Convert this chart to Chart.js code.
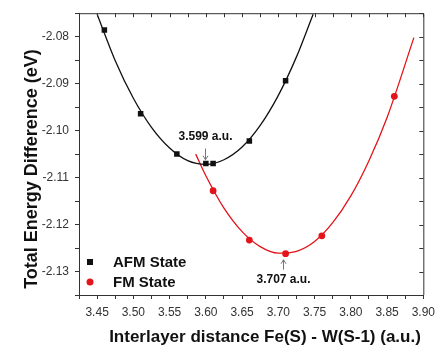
<!DOCTYPE html>
<html>
<head>
<meta charset="utf-8">
<script src="https://cdn.jsdelivr.net/npm/chart.js@4.4.1/dist/chart.umd.min.js"></script>
<style>
    html, body { margin: 0; padding: 0; background: #fff; }
    #wrap { width: 441px; height: 349px; }
</style>
</head>
<body>
<div id="wrap"><canvas id="energyChart" width="441" height="349"></canvas></div>
<script>
// --- DATA ---
const afmX = [3.46, 3.51, 3.56, 3.60, 3.61, 3.66, 3.71];
const afmY = [-2.0786, -2.0964, -2.1050, -2.1070, -2.1070, -2.1022, -2.0894];
const fmX = [3.61, 3.66, 3.71, 3.76, 3.86];
const fmY = [-2.1128, -2.1233, -2.1262, -2.1224, -2.0927];

// fitted curves
const afmFitX = [3.45, 3.475, 3.50, 3.525, 3.55, 3.575, 3.60, 3.625, 3.65, 3.675, 3.70, 3.725, 3.748];
const afmFitY = [-2.0752, -2.0851, -2.0931, -2.0993, -2.1037, -2.1064, -2.1072, -2.1062, -2.1035, -2.0989, -2.0925, -2.0843, -2.0752];
const fmFitX = [3.586, 3.60, 3.625, 3.65, 3.675, 3.70, 3.725, 3.75, 3.775, 3.80, 3.825, 3.85, 3.887];
const fmFitY = [-2.1050, -2.1096, -2.1165, -2.1215, -2.1247, -2.1261, -2.1257, -2.1236, -2.1196, -2.1139, -2.1064, -2.0972, -2.0802];

const xTickLabels = ['3.45', '3.50', '3.55', '3.60', '3.65', '3.70', '3.75', '3.80', '3.85', '3.90'];
const yTickLabels = ['-2.13', '-2.12', '-2.11', '-2.10', '-2.09', '-2.08'];

const legendNames = ['AFM State', 'FM State'];
const minimumNotes = [
    { text: '3.599 a.u.', x: 3.599, textY: -2.1013, from: -2.1038, to: -2.1062 },
    { text: '3.707 a.u.', x: 3.707, textY: -2.1317, from: -2.1296, to: -2.1275 }
];

const BLACK = '#111111';
const RED = '#e3141b';
const AXIS = '#333333';

const toPoints = (xs, ys) => xs.map((x, i) => ({ x: x, y: ys[i] }));

// major + minor ticks (minor halfway between majors)
const withMinor = (labels, first, last, step) => {
    const vals = [];
    const majors = labels.map(Number);
    vals.push(majors[0] - step / 2);
    majors.forEach((v, i) => {
        vals.push(v);
        if (i < majors.length - 1) vals.push(v + step / 2);
    });
    if (majors[majors.length - 1] + step / 2 <= last + 1e-9) vals.push(majors[majors.length - 1] + step / 2);
    return vals.filter(v => v >= first - 1e-9 && v <= last + 1e-9);
};

const isMajor = (v, labels) => labels.some(l => Math.abs(Number(l) - v) < 1e-6);

/**
 * Frame, mirrored ticks, axis titles, annotations and legend
 */
const extrasPlugin = {
    id: 'extras',
    afterDraw: (chart) => {
        const { ctx, chartArea: a, scales } = chart;
        const xs = scales.x, ys = scales.y;
        ctx.save();

        // top and right frame with inward ticks
        ctx.strokeStyle = AXIS;
        ctx.lineWidth = 1;
        ctx.beginPath();
        ctx.moveTo(a.left, a.top + 0.5);
        ctx.lineTo(a.right + 0.5, a.top + 0.5);
        ctx.lineTo(a.right + 0.5, a.bottom);
        xs.ticks.forEach(t => {
            const px = Math.round(xs.getPixelForValue(t.value)) + 0.5;
            ctx.moveTo(px, a.top);
            ctx.lineTo(px, a.top + 4);
        });
        ys.ticks.forEach(t => {
            const py = Math.round(ys.getPixelForValue(t.value)) + 0.5;
            ctx.moveTo(a.right, py);
            ctx.lineTo(a.right - 4, py);
        });
        ctx.stroke();

        // axis titles
        ctx.fillStyle = BLACK;
        ctx.textAlign = 'center';
        ctx.textBaseline = 'middle';
        ctx.font = 'bold 17px "Liberation Sans", Arial, sans-serif';
        ctx.fillText('Interlayer distance Fe(S) - W(S-1) (a.u.)', 265, 337);
        ctx.save();
        ctx.translate(32, 169);
        ctx.rotate(-Math.PI / 2);
        ctx.font = 'bold 18px "Liberation Sans", Arial, sans-serif';
        ctx.fillText('Total Energy Difference (eV)', 0, 0);
        ctx.restore();

        // minimum annotations
        minimumNotes.forEach(n => {
            const px = Math.round(xs.getPixelForValue(n.x)) + 0.5;
            const y1 = ys.getPixelForValue(n.from);
            const y2 = ys.getPixelForValue(n.to);
            const dir = y2 > y1 ? 1 : -1;
            ctx.strokeStyle = '#777';
            ctx.lineWidth = 1;
            ctx.beginPath();
            ctx.moveTo(px, y1);
            ctx.lineTo(px, y2);
            ctx.moveTo(px - 2.5, y2 - dir * 4);
            ctx.lineTo(px, y2);
            ctx.lineTo(px + 2.5, y2 - dir * 4);
            ctx.stroke();
            ctx.fillStyle = BLACK;
            ctx.font = 'bold 12px "Liberation Sans", Arial, sans-serif';
            ctx.fillText(n.text, px, ys.getPixelForValue(n.textY));
        });

        // legend
        ctx.textAlign = 'left';
        ctx.font = 'bold 15px "Liberation Sans", Arial, sans-serif';
        legendNames.forEach((name, i) => {
            const ly = a.bottom - 33 + i * 20;
            const lx = a.left + 11;
            ctx.fillStyle = i === 0 ? BLACK : RED;
            if (i === 0) {
                ctx.fillRect(lx - 3, ly - 3, 6, 6);
            } else {
                ctx.beginPath();
                ctx.arc(lx, ly, 3.5, 0, Math.PI * 2);
                ctx.fill();
            }
            ctx.fillStyle = BLACK;
            ctx.fillText(name, a.left + 34, ly + 1);
        });
        ctx.restore();
    }
};

const whiteBg = {
    id: 'whiteBg',
    beforeDraw: (chart) => {
        const c = chart.ctx;
        c.save();
        c.fillStyle = '#fff';
        c.fillRect(0, 0, chart.width, chart.height);
        c.restore();
    }
};

const ctx = document.getElementById('energyChart').getContext('2d');
new Chart(ctx, {
    type: 'scatter',
    data: {
        datasets: [
            {
                label: 'AFM fit', data: toPoints(afmFitX, afmFitY), showLine: true,
                borderColor: BLACK, borderWidth: 1.3, pointRadius: 0, tension: 0.4,
                cubicInterpolationMode: 'monotone'
            },
            {
                label: 'FM fit', data: toPoints(fmFitX, fmFitY), showLine: true,
                borderColor: RED, borderWidth: 1.3, pointRadius: 0, tension: 0.4,
                cubicInterpolationMode: 'monotone'
            },
            {
                label: legendNames[0], data: toPoints(afmX, afmY), pointStyle: 'rect',
                pointRadius: 3.9, backgroundColor: BLACK, borderColor: BLACK, borderWidth: 0
            },
            {
                label: legendNames[1], data: toPoints(fmX, fmY), pointStyle: 'circle',
                pointRadius: 3.4, backgroundColor: RED, borderColor: RED, borderWidth: 0
            }
        ]
    },
    options: {
        responsive: false,
        animation: false,
        layout: { padding: { left: 0, right: 12, top: 11, bottom: 0 } },
        plugins: { legend: { display: false }, tooltip: { enabled: false } },
        scales: {
            x: {
                type: 'linear', min: 3.425, max: 3.90,
                afterBuildTicks: (s) => {
                    s.ticks = withMinor(xTickLabels, 3.425, 3.90, 0.05).map(v => ({ value: v }));
                },
                afterFit: (s) => { s.height = 54; },
                ticks: {
                    autoSkip: false, maxRotation: 0, padding: 6, color: '#333',
                    font: { family: '"Liberation Sans", Arial, sans-serif', size: 12 },
                    callback: (v) => isMajor(v, xTickLabels) ? Number(v).toFixed(2) : ''
                },
                grid: { drawOnChartArea: false, tickLength: 4, color: AXIS },
                border: { display: true, color: AXIS, width: 1 }
            },
            y: {
                type: 'linear', min: -2.135, max: -2.075,
                afterBuildTicks: (s) => {
                    s.ticks = withMinor(yTickLabels, -2.135, -2.075, 0.01).map(v => ({ value: v }));
                },
                afterFit: (s) => { s.width = 79; },
                ticks: {
                    autoSkip: false, padding: 6, color: '#333',
                    font: { family: '"Liberation Sans", Arial, sans-serif', size: 12 },
                    callback: (v) => isMajor(v, yTickLabels) ? Number(v).toFixed(2) : ''
                },
                grid: { drawOnChartArea: false, tickLength: 4, color: AXIS },
                border: { display: true, color: AXIS, width: 1 }
            }
        }
    },
    plugins: [whiteBg, extrasPlugin]
});
</script>
</body>
</html>
